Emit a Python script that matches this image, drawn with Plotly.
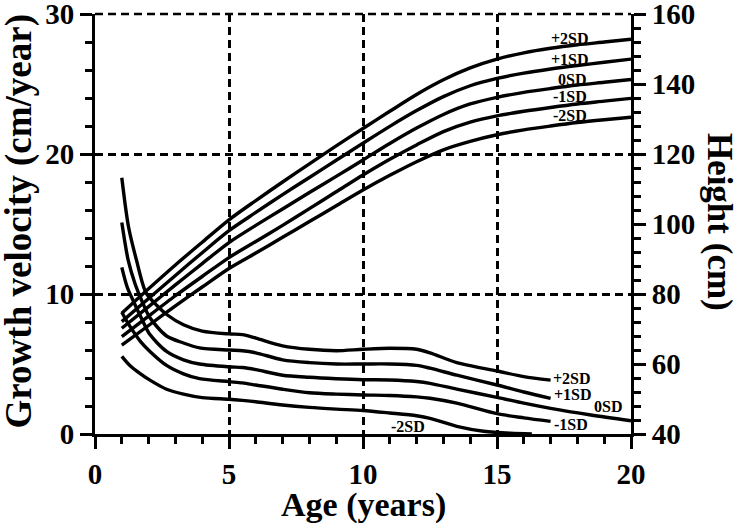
import plotly.graph_objects as go

# ---------------- data ----------------
sd_labels = ["+2SD", "+1SD", "0SD", "-1SD", "-2SD"]

# Height (cm) by age (years), right axis
h_age = [1, 2, 3, 4, 5, 6, 7, 8, 9, 10, 11, 12, 13, 14, 15, 16, 17, 18, 19, 20]
h_p2 = [74.5, 81.5, 88.3, 94.8, 101.2, 106.7, 112.0, 117.2, 122.3, 127.3, 132.2, 137.0, 141.2, 144.6, 147.1, 148.9, 150.2, 151.2, 152.0, 152.8]
h_p1 = [72.1, 78.7, 85.3, 91.8, 98.1, 103.3, 108.4, 113.3, 118.2, 123.1, 127.9, 132.4, 136.4, 139.5, 141.6, 143.1, 144.3, 145.3, 146.2, 147.1]
h_0 = [70.2, 76.4, 82.6, 88.7, 94.7, 99.6, 104.3, 109.0, 113.6, 118.3, 123.0, 127.4, 131.3, 134.3, 136.2, 137.6, 138.7, 139.7, 140.5, 141.3]
h_m1 = [67.8, 73.7, 79.5, 85.0, 90.4, 95.0, 99.6, 104.4, 109.2, 114.0, 118.5, 122.6, 126.4, 129.1, 130.9, 132.2, 133.3, 134.3, 135.1, 135.9]
h_m2 = [65.4, 71.0, 76.6, 82.0, 87.3, 91.7, 96.2, 100.7, 105.2, 109.7, 113.9, 117.8, 121.2, 123.6, 125.5, 126.9, 128.0, 129.0, 129.8, 130.5]

# Growth velocity (cm/year), left axis
v_p2_age = [1, 1.25, 1.55, 1.9, 2.3, 2.7, 3.3, 4, 5, 5.5, 6, 7, 8, 9, 10, 11, 12, 12.5, 13.5, 15, 16, 17]
v_p2 = [18.3, 14.8, 12.4, 10.1, 9.2, 8.5, 7.8, 7.35, 7.15, 7.1, 6.85, 6.3, 6.05, 5.95, 6.05, 6.12, 6.05, 5.8, 5.1, 4.5, 4.1, 3.85]
v_p1_age = [1, 1.24, 1.5, 1.75, 2.05, 2.67, 3.3, 3.9, 5, 5.5, 6, 7, 8, 9, 10, 11, 12, 12.5, 13.5, 15, 16, 17]
v_p1 = [15.1, 12.4, 10.7, 9.5, 8.3, 7.0, 6.5, 6.15, 6.0, 5.95, 5.8, 5.3, 5.1, 5.0, 5.0, 5.0, 4.9, 4.7, 4.2, 3.5, 3.0, 2.55]
v_0_age = [1, 1.2, 1.43, 1.75, 2.05, 2.67, 3.3, 3.9, 5, 5.5, 6, 7, 8, 9, 10, 11, 12, 12.5, 13.5, 15, 16, 17, 18.5, 20]
v_0 = [11.9, 10.5, 9.5, 8.2, 7.1, 5.9, 5.3, 5.0, 4.8, 4.75, 4.6, 4.2, 4.05, 3.95, 3.88, 3.86, 3.75, 3.62, 3.2, 2.62, 2.2, 1.83, 1.36, 0.95]
v_m1_age = [1, 1.3, 1.7, 2.05, 2.67, 3.3, 3.9, 5, 5.5, 6, 7, 8, 9, 10, 11, 12, 12.5, 13.5, 15, 16, 17]
v_m1 = [8.7, 7.7, 6.6, 5.9, 4.9, 4.3, 3.95, 3.74, 3.65, 3.5, 3.2, 2.95, 2.85, 2.79, 2.75, 2.65, 2.55, 2.2, 1.45, 1.15, 0.9]
v_m2_age = [1, 1.3, 1.7, 2.05, 2.67, 3.3, 4, 5, 5.5, 6, 7, 8, 9, 10, 11, 12, 12.5, 13.5, 14.5, 15.5, 16.3]
v_m2 = [5.55, 4.9, 4.3, 3.85, 3.2, 2.85, 2.6, 2.48, 2.4, 2.3, 2.07, 1.9, 1.78, 1.68, 1.5, 1.3, 1.12, 0.55, 0.2, 0.05, 0]

# label anchor positions (age, value)
h_label_pos = [(17.72, 152.9), (17.72, 147.1), (17.8, 141.4), (17.72, 136.3), (17.72, 130.9)]
v_label_pos = [(17.8, 4.0), (17.84, 2.79), (19.14, 1.95), (17.76, 0.71), (11.68, 0.52)]

x_ticks = [0, 5, 10, 15, 20]
y_ticks = [0, 10, 20, 30]
y2_ticks = [40, 60, 80, 100, 120, 140, 160]

FONT = "Liberation Serif"

fig = go.Figure()
line_style = dict(color="black", width=3.4, shape="spline", smoothing=0.8)

for ys in [h_p2, h_p1, h_0, h_m1, h_m2]:
    fig.add_trace(go.Scatter(x=h_age, y=ys, mode="lines", line=line_style,
                             yaxis="y2", showlegend=False, hoverinfo="skip"))

for xs, ys in [(v_p2_age, v_p2), (v_p1_age, v_p1), (v_0_age, v_0), (v_m1_age, v_m1), (v_m2_age, v_m2)]:
    fig.add_trace(go.Scatter(x=xs, y=ys, mode="lines", line=line_style,
                             yaxis="y", showlegend=False, hoverinfo="skip"))

lab_font = dict(family=FONT, size=16, color="black", weight="bold")
annotations = []
for txt, (ax_, ay_) in zip(sd_labels, h_label_pos):
    annotations.append(dict(x=ax_, y=ay_, xref="x", yref="y2", text=txt, showarrow=False,
                            font=lab_font, xanchor="center", yanchor="middle"))
for txt, (ax_, ay_) in zip(sd_labels, v_label_pos):
    annotations.append(dict(x=ax_, y=ay_, xref="x", yref="y", text=txt, showarrow=False,
                            font=lab_font, xanchor="center", yanchor="middle"))

annotations.append(dict(x=0.5, y=-0.169, xref="paper", yref="paper", text="Age (years)",
                        showarrow=False, font=dict(family=FONT, size=34, color="black", weight="bold"),
                        xanchor="center", yanchor="middle"))
annotations.append(dict(x=-0.1427, y=0.505, xref="paper", yref="paper", text="Growth velocity (cm/year)",
                        showarrow=False, font=dict(family=FONT, size=37, color="black", weight="bold"),
                        textangle=-90, xanchor="center", yanchor="middle"))
annotations.append(dict(x=1.1642, y=0.505, xref="paper", yref="paper", text="Height (cm)",
                        showarrow=False, font=dict(family=FONT, size=35, color="black", weight="bold"),
                        textangle=90, xanchor="center", yanchor="middle"))

tick_font = dict(family=FONT, size=29, color="black", weight="bold")
grid_common = dict(showgrid=True, gridcolor="black", gridwidth=2.5, griddash="8px,5px")

fig.update_layout(
    width=736, height=523, autosize=False,
    margin=dict(l=95, r=105, t=14, b=89, autoexpand=False),
    paper_bgcolor="white", plot_bgcolor="white",
    annotations=annotations,
    shapes=[dict(type="line", xref="x domain", yref="y domain", x0=0, x1=1, y0=1, y1=1,
                 line=dict(color="black", width=2.5, dash="8px,5px"), layer="below")],
    xaxis=dict(range=[0, 20], tickvals=x_ticks, ticks="outside", ticklen=12, tickwidth=3,
               tickcolor="black", showline=True, linewidth=3, linecolor="black", automargin=False,
               zeroline=False, tickfont=tick_font, ticklabelstandoff=0, ticklabeloverflow="allow",
               minor=dict(dtick=1, ticks="outside", ticklen=7, tickwidth=3, tickcolor="black", showgrid=False),
               **grid_common),
    yaxis=dict(range=[0, 30], tickvals=y_ticks, ticks="outside", ticklen=12, tickwidth=3,
               tickcolor="black", showline=True, linewidth=3, linecolor="black", automargin=False,
               zeroline=False, tickfont=tick_font, ticklabelstandoff=0, ticklabeloverflow="allow",
               minor=dict(dtick=2, ticks="outside", ticklen=7, tickwidth=3, tickcolor="black", showgrid=False),
               **grid_common),
    yaxis2=dict(range=[40, 160], tickvals=y2_ticks, overlaying="y", side="right", anchor="x",
                ticks="outside", ticklen=12, tickwidth=3, tickcolor="black", automargin=False,
                showline=True, linewidth=3, linecolor="black", showgrid=False, zeroline=False,
                tickfont=tick_font, ticklabelstandoff=0, ticklabeloverflow="allow",
                minor=dict(dtick=4, ticks="outside", ticklen=7, tickwidth=3, tickcolor="black", showgrid=False)),
)

fig.write_html("out.html", config={"displayModeBar": False},
               post_script="document.body.style.margin='0px';")
